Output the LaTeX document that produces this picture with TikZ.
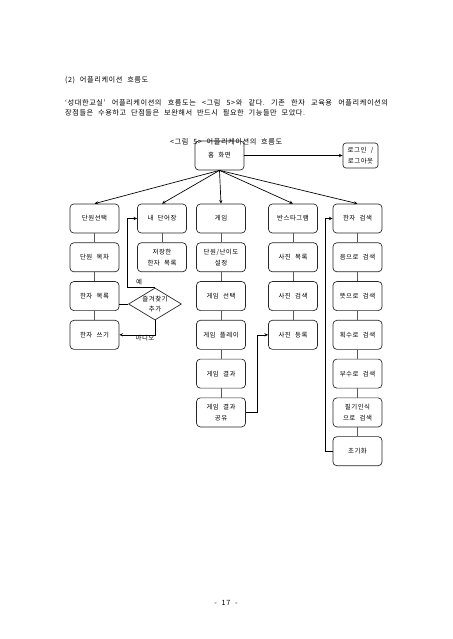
\documentclass[tikz,border=0pt]{standalone}
\usepackage{fontspec}
\setmainfont{Noto Sans CJK KR}[WordSpace=2.2, LetterSpace=8]
\frenchspacing
\usetikzlibrary{positioning,shapes.geometric,arrows.meta}
\tikzstyle{screen} = [draw=black!85, line width=.9pt, rounded corners=1.8mm, minimum width=22.8mm, minimum height=13.5mm, inner sep=1pt, align=center, font=\fontsize{8.5}{14.5}\selectfont]
\tikzstyle{choice} = [diamond, draw=black!85, line width=.9pt, minimum width=24.6mm, minimum height=14.9mm, inner sep=-8pt, align=center, font=\fontsize{8.5}{14}\selectfont]
\tikzstyle{flow} = [-{Stealth[length=1.7mm,width=1.5mm]}, line width=.9pt]
\tikzstyle{link} = [line width=.9pt, black!65]
\tikzstyle{txt} = [inner sep=0pt, font=\fontsize{9.5}{13.2}\selectfont]

\begin{document}
\begin{tikzpicture}[x=.4646mm, y=-.4646mm, node distance=4.2mm]
			\useasboundingbox (0,0) rectangle (452,639);
			\node [txt, anchor=west] (head) at (65,80) {(2) 어플리케이션 흐름도};
			\node [txt, anchor=north west, text width=150mm, align=justify] (body) at (65,99)
				{‘성대한교실’ 어플리케이션의 흐름도는 <그림 5>와 같다. 기존 한자 교육용 어플리케이션의\linebreak 장점들은 수용하고 단점들은 보완해서 반드시 필요한 기능들만 모았다.};
			\node [txt, anchor=west] (cap) at (170,142) {<그림 5> 어플리케이션의 흐름도};
			% top screens
			\node [screen] (home) at (219.5,155.5) {홈 화면};
			\node [screen, minimum width=16.3mm, minimum height=11.6mm, rounded corners=1.4mm] (login) at (360.5,155.5) {로그인 /\\로그아웃};
			% first row
			\node [screen] (unit) at (94.5,218.5) {단원선택};
			\node [screen] (mydict) at (162,218.5) {내 단어장};
			\node [screen] (game) at (221,218.5) {게임};
			\node [screen] (insta) at (293,218.5) {반스타그램};
			\node [screen] (hsearch) at (357.5,218.5) {한자 검색};
			% columns
			\node [screen, below=of unit] (unitlist) {단원 목차};
			\node [screen, below=of unitlist] (hanjalist) {한자 목록};
			\node [screen, below=of hanjalist] (write) {한자 쓰기};
			\node [screen, below=of mydict] (saved) {저장한\\한자 목록};
			\node [screen, below=of game] (level) {단원/난이도\\설정};
			\node [screen, below=of level] (select) {게임 선택};
			\node [screen, below=of select] (play) {게임 플레이};
			\node [screen, below=of play] (result) {게임 결과};
			\node [screen, below=of result] (share) {게임 결과\\공유};
			\node [screen, below=of insta] (photos) {사진 목록};
			\node [screen, below=of photos] (psearch) {사진 검색};
			\node [screen, below=of psearch] (upload) {사진 등록};
			\node [screen, below=of hsearch] (bysound) {음으로 검색};
			\node [screen, below=of bysound] (bymeaning) {뜻으로 검색};
			\node [screen, below=of bymeaning] (bystroke) {획수로 검색};
			\node [screen, below=of bystroke] (byradical) {부수로 검색};
			\node [screen, below=of byradical] (byhand) {필기인식\\으로 검색};
			\node [screen, below=of byhand] (reset) {초기화};
			\node [choice] (fav) at (155,304) {즐겨찾기\\추가};
			% arrows
			\foreach \to in {unit, mydict, game, insta, hsearch}
				\draw [flow] (home.south) -- (\to.north);
			\draw [flow] (home.east) -- (login.west);
			\foreach \a/\b in {unit/unitlist, unitlist/hanjalist, hanjalist/write, mydict/saved,
				game/level, level/select, select/play, play/result, result/share,
				insta/photos, photos/psearch, psearch/upload,
				hsearch/bysound, bysound/bymeaning, bymeaning/bystroke, bystroke/byradical, byradical/byhand, byhand/reset}
				\draw [link] (\a) -- (\b);
			\coordinate (yes) at (127,0);
			\draw [line width=.9pt] (hanjalist.east |- fav.west) -- (fav.west);
			\draw [flow] (fav.north) -- (fav.north -| yes) |- (mydict.west);
			\draw [flow] (fav.south) |- (write.east);
			\node [txt, font=\fontsize{8.5}{10}\selectfont] (yeslbl) at (139,282) {예};
			\node [txt, font=\fontsize{8.5}{10}\selectfont] (nolbl) at (145,338.5) {아니오};
			\draw [flow] (share.east) -- ++(11,0) |- (upload.west);
			\draw [flow] (reset.west) -- ++(-7,0) |- (hsearch.west);
			\node [txt] (page) at (226,603) {- 17 -};
		\end{tikzpicture}
\end{document}
